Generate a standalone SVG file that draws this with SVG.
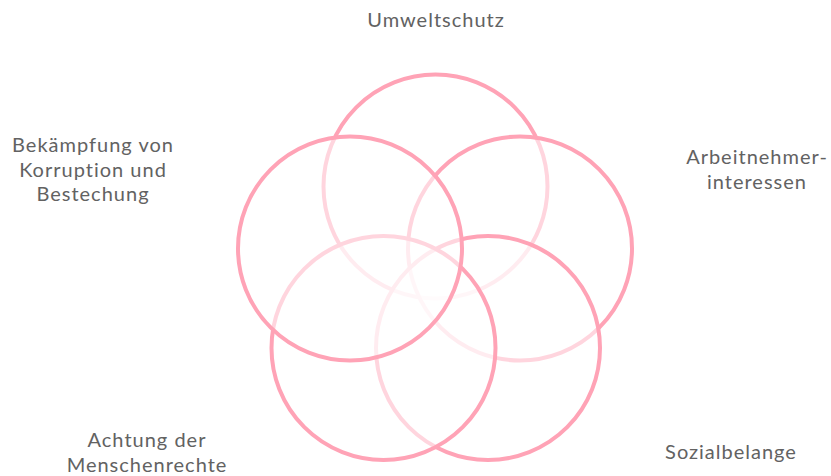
<svg xmlns="http://www.w3.org/2000/svg" width="831" height="476" viewBox="0 0 831 476">
<style>
.ring{fill:#ffffff;fill-opacity:0.55;stroke:#ffa3b6;stroke-width:4}
.lbl{font-family:Lato,"Open Sans","Liberation Sans",sans-serif;font-size:20px;fill:#626262;text-anchor:middle;letter-spacing:1px}
</style>
<rect width="831" height="476" fill="#ffffff"/>
<g id="umweltschutz">
<circle class="ring" cx="435.5" cy="186.5" r="112"/>
<text class="lbl" x="436" y="27">Umweltschutz</text>
</g>
<g id="arbeitnehmerinteressen">
<circle class="ring" cx="520" cy="248.5" r="112"/>
<text class="lbl" x="757" y="164">Arbeitnehmer-</text>
<text class="lbl" x="757" y="188.5">interessen</text>
</g>
<g id="sozialbelange">
<circle class="ring" cx="488" cy="348" r="112"/>
<text class="lbl" x="731" y="459">Sozialbelange</text>
</g>
<g id="menschenrechte">
<circle class="ring" cx="383.5" cy="348" r="112"/>
<text class="lbl" x="147" y="447">Achtung der</text>
<text class="lbl" x="147" y="471.5">Menschenrechte</text>
</g>
<g id="korruption">
<circle class="ring" cx="350" cy="248.5" r="112"/>
<text class="lbl" x="93" y="152">Bekämpfung von</text>
<text class="lbl" x="93" y="176.5">Korruption und</text>
<text class="lbl" x="93" y="201">Bestechung</text>
</g>
</svg>
